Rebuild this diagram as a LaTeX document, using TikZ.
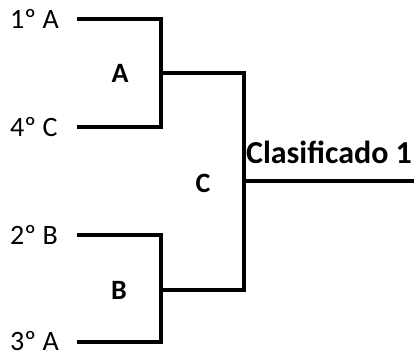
\documentclass[tikz,border=0pt]{standalone}
\usepackage{fontspec}
\setmainfont{Carlito}
\begin{document}
\begin{tikzpicture}[x=1pt,y=-1pt,
  team/.style={font=\fontsize{28}{30}\selectfont, inner sep=0pt, anchor=west},
  grp/.style={font=\fontsize{28}{30}\selectfont\bfseries, inner sep=0pt},
  winner/.style={font=\fontsize{32}{34}\selectfont\bfseries, inner sep=0pt},
  bracket/.style={line width=3.3pt, line join=miter}]
\useasboundingbox (0,0) rectangle (414,354);
% team labels
\node[team] (t1) at (10,19) {1º A};
\node[team] (t2) at (10,127) {4º C};
\node[team] (t3) at (10,235) {2º B};
\node[team] (t4) at (10,341) {3º A};
% group labels
\node[grp] (gA) at (120,73) {A};
\node[grp] (gB) at (119,290) {B};
\node[grp] (gC) at (203,183) {C};
\node[winner] (w) at (329,152) {Clasificado 1};
% bracket points
\coordinate (s1) at (77,19);
\coordinate (s2) at (77,127);
\coordinate (s3) at (77,235);
\coordinate (s4) at (77,342);
\coordinate (mA) at (161,73);
\coordinate (mB) at (161,290);
\coordinate (cC) at (244,181);
\coordinate (out) at (414,181);
\draw[bracket] (s1) -- (s1 -| mA) -- (s2 -| mA) -- (s2);
\draw[bracket] (s3) -- (s3 -| mB) -- (s4 -| mB) -- (s4);
\draw[bracket] (mA) -- (mA -| cC) -- (mB -| cC) -- (mB);
\draw[bracket] (cC) -- (out);
\end{tikzpicture}
\end{document}
